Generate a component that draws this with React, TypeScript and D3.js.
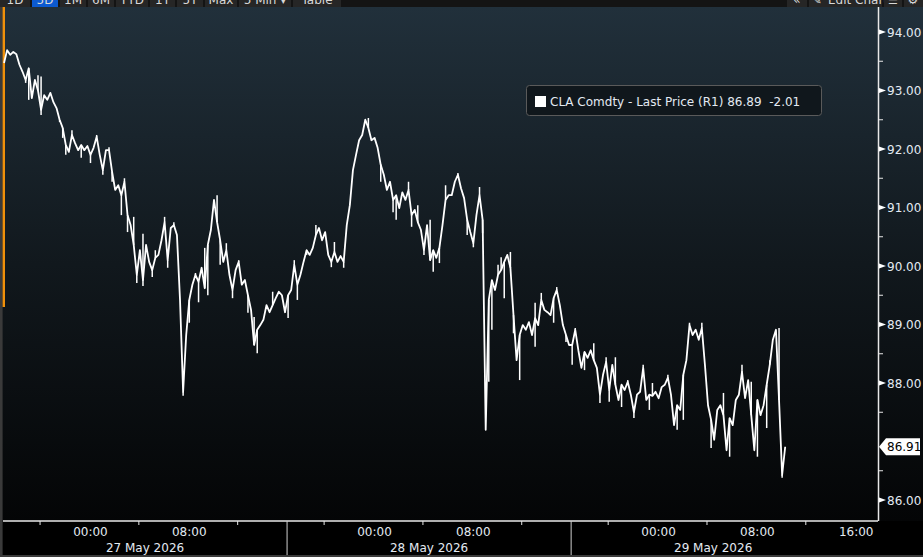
import { useEffect } from "react";
import * as d3 from "d3";

const W = 923;
const H = 557;

// CLA Comdty last price, 15-minute bars in trading time (session opens 17:00 CT)
const PRICES = [
  93.47, 93.69, 93.61, 93.66, 93.62, 93.44, 93.32, 93.18, 93.38, 92.87,
  93.18, 93.0, 92.67, 92.92, 92.84, 92.96, 92.8, 92.7, 92.5, 92.36,
  92.07, 91.95, 92.24, 92.1, 91.98, 92.07, 91.98, 92.05, 91.9, 92.02,
  92.21, 91.9, 91.64, 91.98, 91.98, 91.61, 91.3, 91.38, 91.21, 91.44,
  90.87, 90.7, 90.36, 89.85, 90.27, 89.76, 90.36, 90.07, 89.93, 90.14,
  90.19, 90.44, 90.75, 90.1, 90.65, 90.7, 90.53, 89.42, 87.85, 88.82,
  89.42, 89.68, 89.85, 89.73, 89.97, 89.62, 90.36, 90.62, 91.13, 90.75,
  90.44, 90.07, 90.27, 89.85, 89.59, 89.93, 90.07, 89.68, 89.76, 89.5,
  89.25, 88.65, 88.91, 88.99, 89.08, 89.33, 89.21, 89.33, 89.45, 89.56,
  89.5, 89.21, 89.5, 89.59, 90.02, 89.68, 89.85, 90.07, 90.27, 90.19,
  90.31, 90.53, 90.65, 90.44, 90.58, 90.19, 90.07, 90.24, 90.07, 90.17,
  90.07, 90.7, 91.04, 91.64, 91.9, 92.15, 92.24, 92.5, 92.36, 92.15,
  92.19, 92.02, 91.73, 91.56, 91.3, 91.44, 91.13, 91.21, 90.99, 91.26,
  91.13, 91.3, 90.87, 90.96, 90.75, 90.62, 90.27, 90.7, 90.1, 90.27,
  90.14, 90.31, 90.7, 91.13, 91.21, 91.21, 91.44, 91.56, 91.33, 91.16,
  90.79, 90.58, 90.39, 90.87, 91.21, 90.79, 87.2, 89.42, 89.76, 89.59,
  89.85, 89.93, 90.07, 90.19, 89.97, 89.16, 88.39, 88.82, 88.99, 88.91,
  89.04, 88.82, 89.11, 88.99, 89.42, 89.25, 89.21, 89.16, 89.45, 89.59,
  89.33, 88.99, 88.82, 88.65, 88.65, 88.91, 88.56, 88.26, 88.53, 88.43,
  88.56, 88.39, 88.26, 87.8, 88.14, 88.36, 87.88, 88.31, 87.97, 87.71,
  87.97, 87.88, 88.02, 87.8, 87.5, 87.8, 87.85, 88.26, 87.71, 87.8,
  87.78, 87.85, 87.74, 87.93, 87.97, 88.09, 87.8, 87.28, 87.62, 87.54,
  88.14, 88.39, 88.99, 88.82, 88.91, 88.74, 88.94, 88.31, 87.62, 87.37,
  87.03, 87.54, 87.62, 87.45, 86.85, 87.4, 87.28, 87.71, 87.8, 88.19,
  87.74, 88.05, 87.45, 86.85, 87.71, 87.45, 87.62, 87.97, 88.31, 88.74,
  88.91, 87.71, 86.43, 86.91,
];
// intrabar extremes: [bar index, price]
const WICKS: [number, number][] = [
  [7, 93.13], [8, 92.84], [11, 93.26], [12, 93.24], [12, 92.58], [18, 92.46], [19, 92.19],
  [20, 91.9], [22, 92.32], [25, 91.85], [28, 91.76], [30, 92.24], [32, 91.56], [34, 92.03],
  [35, 91.44], [38, 90.87], [39, 91.5], [40, 90.58], [42, 90.84], [43, 89.71], [45, 90.55],
  [45, 89.66], [48, 89.81], [49, 90.27], [52, 90.84], [53, 89.97], [55, 90.75], [58, 87.78],
  [60, 89.03], [62, 89.88], [63, 89.38], [65, 90.31], [66, 89.5], [69, 91.21], [70, 90.02],
  [72, 90.39], [74, 89.45], [76, 90.1], [79, 89.2], [81, 89.13], [82, 88.51], [87, 89.56],
  [92, 89.11], [94, 90.1], [95, 89.42], [98, 90.19], [101, 90.7], [106, 89.98], [107, 90.41],
  [110, 89.97], [118, 92.53], [122, 91.44], [126, 90.92], [127, 90.79], [131, 91.44],
  [132, 90.67], [134, 91.04], [136, 90.19], [138, 90.79], [139, 89.9], [141, 90.05],
  [143, 91.38], [147, 91.59], [150, 90.53], [152, 90.32], [154, 91.35], [155, 90.56],
  [157, 88.02], [158, 88.91], [160, 90.02], [161, 90.15], [162, 89.45], [164, 90.24],
  [165, 88.85], [167, 88.05], [172, 89.37], [172, 88.62], [174, 89.54], [178, 89.03],
  [179, 89.64], [182, 88.7], [184, 88.31], [185, 88.94], [188, 88.22], [191, 88.68],
  [193, 87.66], [195, 88.44], [196, 87.68], [198, 88.44], [200, 87.59], [202, 88.05],
  [204, 87.4], [207, 88.31], [209, 87.54], [210, 88.0], [215, 88.14], [218, 87.2],
  [220, 87.37], [222, 89.03], [226, 89.03], [229, 86.89], [233, 87.83], [235, 86.74],
  [239, 88.31], [242, 88.02], [244, 86.74], [247, 87.23], [248, 88.39], [251, 88.94],
  [252, 86.38],
];
const FIRST_BAR_H = 5 / 60;
const STEP_H = 0.25;

const SESSION_OPEN = 17; // CT
const SESSION_HOURS = 23;
const SESSION_DATES = ["27 May 2026", "28 May 2026", "29 May 2026"];
const CLOCK_LABELS = ["00:00", "08:00", "16:00"];
const MINOR_CLOCK = [20, 4, 12];

const Y_TICKS = [86, 87, 88, 89, 90, 91, 92, 93, 94];
const LAST_PRICE = 86.91;
const LEGEND_TEXT = "CLA Comdty - Last Price (R1) 86.89  -2.01";

const RANGE_BUTTONS = ["1D", "5D", "1M", "6M", "YTD", "1Y", "5Y", "Max", "5 Min \u25BE", "Table"];
const RANGE_ACTIVE = "5D";

const FONT = "DejaVu Sans";
const LABEL = "#e3eaf2";

const PLOT = { left: 3, right: 878, top: 7, bottom: 521 };

const offsetOf = (clock: number) => (clock - SESSION_OPEN + 24) % 24;

export default function App() {
  useEffect(() => {
    document.body.style.margin = "0";
  }, []);

  const nSess = SESSION_DATES.length;
  const x = d3
    .scaleLinear()
    .domain([0, SESSION_HOURS * nSess])
    .range([PLOT.left, 855.2]);
  const y = d3.scaleLinear().domain([86, 94]).range([500, 32]);
  const barX = (i: number) => x(FIRST_BAR_H + i * STEP_H);

  const line = d3
    .line<number>()
    .x((_, i) => barX(i))
    .y((d) => y(d));

  const fmt = d3.format(".2f");

  const majorX: { t: number; label: string }[] = [];
  const minorX: number[] = [];
  SESSION_DATES.forEach((_, s) => {
    CLOCK_LABELS.forEach((lab) => {
      const off = offsetOf(+lab.slice(0, 2)) || SESSION_HOURS;
      if (off === SESSION_HOURS && s < nSess - 1) return;
      majorX.push({ t: s * SESSION_HOURS + off, label: lab });
    });
    MINOR_CLOCK.forEach((c) => minorX.push(s * SESSION_HOURS + offsetOf(c)));
  });
  const separators = d3.range(1, nSess).map((s) => s * SESSION_HOURS);

  const minorY = Y_TICKS.slice(0, -1).map((v) => v + 0.5);

  // toolbar button boxes
  const btnX = [0, 32, 60, 88, 116, 150, 177, 205, 239, 293, 343];

  const ly = y(LAST_PRICE);

  return (
    <svg width={W} height={H} style={{ display: "block", background: "#000" }} fontFamily={FONT}>
      <defs>
        <linearGradient id="bg" x1="0" y1="0" x2="0" y2="1">
          <stop offset="0" stopColor="#21303b" />
          <stop offset="0.5" stopColor="#11181d" />
          <stop offset="1" stopColor="#040506" />
        </linearGradient>
        <clipPath id="bar">
          <rect x={0} y={0} width={W} height={PLOT.top} />
        </clipPath>
      </defs>

      {/* plot background */}
      <rect x={0} y={PLOT.top} width={W} height={PLOT.bottom - PLOT.top} fill="url(#bg)" />
      <rect x={0} y={PLOT.bottom} width={W} height={H - PLOT.bottom} fill="#000" />
      <rect x={0} y={H - 2} width={W} height={2} fill="#3a3a3a" />
      <rect x={0} y={PLOT.top} width={2.6} height={H - PLOT.top} fill="#3a3a3a" />
      <rect x={2.6} y={PLOT.top} width={2.4} height={300} fill="#f0900a" />

      {/* toolbar */}
      <g clipPath="url(#bar)">
        <rect x={0} y={0} width={W} height={PLOT.top} fill="#141414" />
        {RANGE_BUTTONS.map((b, i) => (
          <g key={b}>
            <rect
              x={btnX[i]}
              y={0}
              width={btnX[i + 1] - btnX[i] - 2}
              height={PLOT.top}
              fill={b === RANGE_ACTIVE ? "#0c5ad0" : "#262626"}
            />
            <text
              x={(btnX[i] + btnX[i + 1] - 2) / 2}
              y={4}
              textAnchor="middle"
              fontSize={12}
              fill="#d8d8d8"
            >
              {b}
            </text>
          </g>
        ))}
        <rect x={787} y={0} width={20} height={PLOT.top} fill="#262626" />
        <text x={797} y={4} textAnchor="middle" fontSize={12} fill="#d8d8d8">«</text>
        <rect x={809} y={0} width={73} height={PLOT.top} fill="#262626" />
        <text x={817} y={4} textAnchor="middle" fontSize={11} fill="#d8d8d8">✎</text>
        <text x={828} y={4} fontSize={12} fill="#d8d8d8">Edit Chart</text>
        <rect x={884} y={0} width={18} height={PLOT.top} fill="#262626" />
        <text x={893} y={4} textAnchor="middle" fontSize={11} fill="#d8d8d8">☰</text>
        <rect x={904} y={0} width={19} height={PLOT.top} fill="#262626" />
        <text x={913} y={4} textAnchor="middle" fontSize={12} fill="#d8d8d8">⚙</text>
      </g>

      {/* price line with intrabar wicks */}
      <g stroke="#ffffff" strokeWidth={1.5}>
        {WICKS.map(([i, p], k) => (
          <line key={k} x1={barX(i)} x2={barX(i)} y1={y(PRICES[i])} y2={y(p)} />
        ))}
      </g>
      <path d={line(PRICES) ?? ""} fill="none" stroke="#ffffff" strokeWidth={1.8} strokeLinejoin="round" />

      {/* right axis */}
      <line x1={PLOT.right + 0.5} x2={PLOT.right + 0.5} y1={PLOT.top} y2={PLOT.bottom} stroke="#e8e8e8" strokeWidth={1.5} />
      {minorY.map((v) => (
        <line key={v} x1={PLOT.right + 1} x2={PLOT.right + 5} y1={y(v)} y2={y(v)} stroke="#e8e8e8" strokeWidth={1} />
      ))}
      {Y_TICKS.filter((v) => Math.abs(y(v) - ly) > 12).map((v) => (
        <g key={v} transform={`translate(${PLOT.right + 1},${y(v)})`}>
          <path d="M0,-2.6L7,0L0,2.6Z" fill="#ffffff" />
          <text x={8} y={4.5} fontSize={12} fill={LABEL}>
            {fmt(v)}
          </text>
        </g>
      ))}

      {/* last price tag */}
      <g transform={`translate(${PLOT.right + 1},${ly})`}>
        <path d="M0,0L7,-8.5L41,-8.5L41,8.5L7,8.5Z" fill="#ffffff" />
        <text x={8} y={4.5} fontSize={12} fill="#000">
          {fmt(LAST_PRICE)}
        </text>
      </g>

      {/* bottom axis */}
      <line x1={PLOT.left} x2={PLOT.right} y1={PLOT.bottom} y2={PLOT.bottom} stroke="#e8e8e8" strokeWidth={1.3} />
      {minorX.map((t) => (
        <line key={t} x1={x(t)} x2={x(t)} y1={PLOT.bottom} y2={PLOT.bottom + 4} stroke="#e8e8e8" strokeWidth={1} />
      ))}
      {separators.map((t) => (
        <line key={t} x1={x(t)} x2={x(t)} y1={PLOT.bottom} y2={H - 2} stroke="#cfcfcf" strokeWidth={1} />
      ))}
      {majorX.map((d) => (
        <text key={d.t} x={x(d.t) + 1} y={536} textAnchor="middle" fontSize={12} fill={LABEL}>
          {d.label}
        </text>
      ))}
      {SESSION_DATES.map((d, s) => (
        <text key={d} x={x(s * SESSION_HOURS + SESSION_HOURS / 2)} y={552} textAnchor="middle" fontSize={12} fill={LABEL}>
          {d}
        </text>
      ))}

      {/* legend */}
      <rect x={526.5} y={85.5} width={295} height={30} rx={3} fill="#10171c" stroke="#5a5a5a" />
      <rect x={535} y={96} width={11} height={11} fill="#ffffff" />
      <text x={550} y={106} fontSize={12} fill={LABEL} style={{ whiteSpace: "pre" }}>
        {LEGEND_TEXT}
      </text>
    </svg>
  );
}
